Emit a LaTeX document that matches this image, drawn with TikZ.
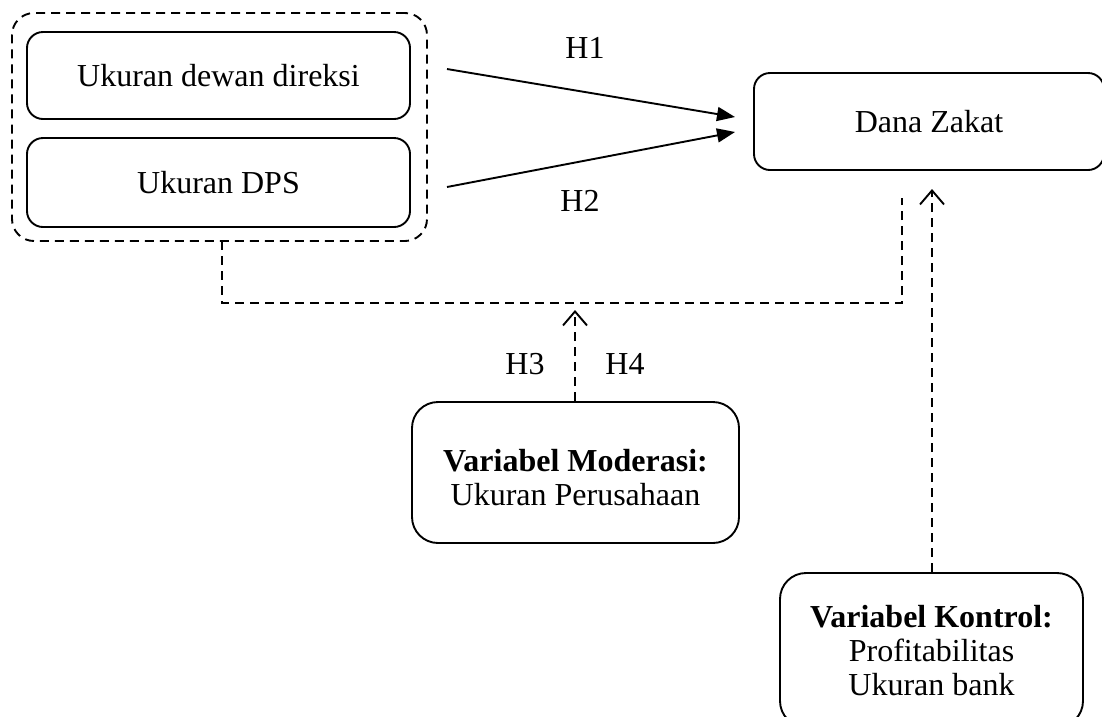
\documentclass[tikz,border=0pt]{standalone}
\usepackage{fontspec}
\setmainfont{Liberation Serif}
\usetikzlibrary{arrows.meta}
\begin{document}
\begin{tikzpicture}[x=1pt,y=-1pt,
  box/.style={draw, line width=1.9pt, rounded corners=16pt, align=center, inner sep=0pt},
  dsh/.style={line width=1.9pt, dash pattern=on 9pt off 6pt},
  solidarrow/.style={line width=1.9pt, -{Triangle[length=18pt,width=14pt]}},
  openarrow/.style={dsh, -{Straight Barb[length=14pt,width=24pt,line width=1.9pt]}},
  lbl/.style={inner sep=0pt},
  every node/.style={font=\fontsize{32}{34}\selectfont}]
\useasboundingbox (0,0) rectangle (1102,716);
\node[box, dsh, rounded corners=22pt, minimum width=415pt, minimum height=228pt] (grp) at (219.5,127) {};
\node[box, minimum width=383pt, minimum height=87pt] (b1) at (218.5,75.5) {Ukuran dewan direksi};
\node[box, minimum width=383pt, minimum height=89pt] (b2) at (218.5,182.5) {Ukuran DPS};
\node[box, minimum width=350pt, minimum height=97pt] (dz) at (929,121.5) {Dana Zakat};
\node[box, rounded corners=26pt, minimum width=327pt, minimum height=141pt] (mod) at (575.5,472.5) {};
\node[align=center, inner sep=0pt] (modt) at (575.5,478) {\textbf{Variabel Moderasi:}\\Ukuran Perusahaan};
\node[box, rounded corners=26pt, minimum width=303pt, minimum height=154pt] (ctl) at (931.5,650) {};
\node[align=center, inner sep=0pt] (ctlt) at (931.5,651) {\textbf{Variabel Kontrol:}\\Profitabilitas\\Ukuran bank};
% connector ends
\coordinate (s1) at (447,69);
\coordinate (e1) at (735,117);
\coordinate (s2) at (447,187);
\coordinate (e2) at (735,132);
\draw[solidarrow] (s1) -- (e1);
\draw[solidarrow] (s2) -- (e2);
\node[lbl] (h1) at (585,48) {H1};
\node[lbl] (h2) at (580,201) {H2};
% moderation connector
\coordinate (c1) at (222,241);
\coordinate (c2) at (222,303);
\coordinate (c3) at (902,303);
\coordinate (c4) at (902,198);
\draw[dsh] (c1) -- (c2) -- (c3) -- (c4);
\coordinate (mtip) at (575,310);
\draw[openarrow] (mod.north -| mtip) -- (mtip);
\node[lbl] (h3) at (525,364) {H3};
\node[lbl] (h4) at (625,364) {H4};
% control connector
\coordinate (ktip) at (932,189);
\draw[openarrow] (ctl.north -| ktip) -- (ktip);
\end{tikzpicture}
\end{document}
